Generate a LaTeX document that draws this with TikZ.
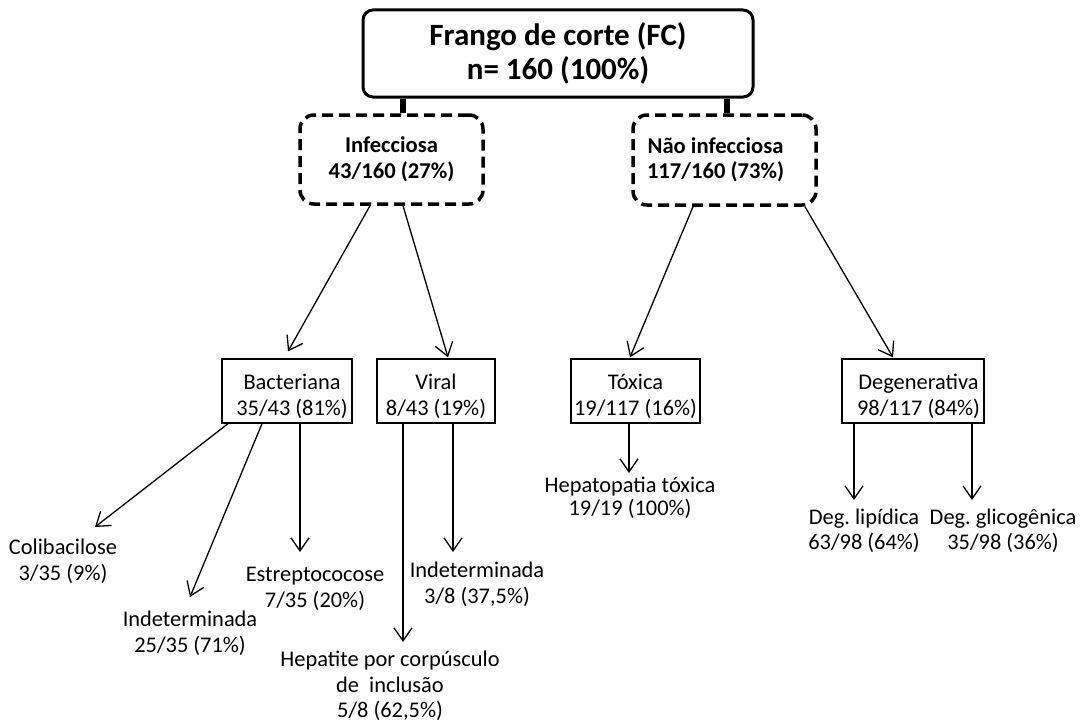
\documentclass[tikz,border=0pt]{standalone}
\usepackage{fontspec}
\setmainfont{Carlito}
\usetikzlibrary{arrows.meta}
\frenchspacing
\tikzset{
  txt/.style={align=center, inner sep=0pt, font=\fontsize{22.4}{26}\selectfont},
  rootbox/.style={draw, line width=3pt, rounded corners=10pt, inner sep=0pt,
    align=center, font=\fontsize{31}{33.5}\selectfont\bfseries},
  groupbox/.style={draw, line width=3.5pt, dash pattern=on 11pt off 6pt,
    rounded corners=14pt, inner sep=0pt, minimum width=183pt, minimum height=89pt,
    align=center, font=\fontsize{22.6}{25.5}\selectfont\bfseries},
  catbox/.style={draw, line width=1.3pt, inner sep=0pt, minimum height=64pt,
    align=center, font=\fontsize{22.4}{25.5}\selectfont},
  stub/.style={line width=6pt},
  arr/.style={line width=1.3pt, -{Straight Barb[length=13pt,width=18pt,line width=1.3pt]}}
}
\newcommand{\lift}{\rule{0pt}{26pt}}
\begin{document}
\begin{tikzpicture}[x=1pt,y=-1pt]
\useasboundingbox (0,0) rectangle (1083,725);

% root
\node[rootbox, minimum width=390pt, minimum height=87pt] (root) at (558,53.5)
  {Frango de corte (FC)\\n= 160 (100\%)};

% first level
\node[groupbox] (inf) at (391.5,159.5) {Infecciosa\\43/160 (27\%)};
\node[groupbox, minimum height=90pt] (ninf) at (724.5,160)
  {Não infecciosa\rule{18pt}{0pt}\\117/160 (73\%)\rule{18pt}{0pt}};

\draw[stub] ([xshift=-155pt]root.south) -- ([xshift=-155pt]root.south |- inf.north);
\draw[stub] ([xshift=169pt]root.south) -- ([xshift=169pt]root.south |- ninf.north);

% second level
\node[catbox, minimum width=130pt] (bact) at (287,391) {\lift\rule{10pt}{0pt}Bacteriana\\\rule{10pt}{0pt}35/43 (81\%)};
\node[catbox, minimum width=118pt] (vir) at (436,391) {\lift Viral\\8/43 (19\%)};
\node[catbox, minimum width=129pt] (tox) at (635.5,391) {\lift Tóxica\\19/117 (16\%)};
\node[catbox, minimum width=142pt] (deg) at (913,391) {\lift\rule{11pt}{0pt}Degenerativa\\\rule{11pt}{0pt}98/117 (84\%)};

\draw[arr] ([xshift=-21.5pt]inf.south) -- ([xshift=1pt,yshift=7pt]bact.north);
\draw[arr] ([xshift=11.5pt]inf.south) -- ([xshift=12pt,yshift=1pt]vir.north);
\draw[arr] ([xshift=-31.5pt]ninf.south) -- ([xshift=-5.5pt,yshift=1pt]tox.north);
\draw[arr] ([xshift=80.5pt]ninf.south) -- ([xshift=-20pt,yshift=1pt]deg.north);

% third level
\node[txt] (coli) at (63,561.5) {Colibacilose\\3/35 (9\%)};
\node[txt] (ind1) at (190,633.5) {Indeterminada\\25/35 (71\%)};
\node[txt] (estr) at (315,588.5) {Estreptococose\\7/35 (20\%)};
\node[txt, font=\fontsize{22.4}{25.5}\selectfont] (hep) at (390,686)
  {Hepatite por corpúsculo\\de \ inclusão\\5/8 (62,5\%)};
\node[txt] (ind2) at (477,584) {Indeterminada\\3/8 (37,5\%)};
\node[txt, font=\fontsize{22.4}{23}\selectfont] (hept) at (630,498) {Hepatopatia tóxica\\19/19 (100\%)};
\node[txt, font=\fontsize{22.4}{25}\selectfont] (lip) at (864,530.5) {Deg. lipídica\\63/98 (64\%)};
\node[txt, font=\fontsize{22.4}{25}\selectfont] (gli) at (1003,530.5) {Deg. glicogênica\\35/98 (36\%)};

\draw[arr] ([xshift=-59pt]bact.south) -- ([xshift=32pt,yshift=34.5pt]coli.center);
\draw[arr] ([xshift=-25pt]bact.south) -- ([yshift=36.5pt]ind1.center);
\draw[arr] ([xshift=13pt]bact.south) -- ([xshift=-15pt,yshift=36.5pt]estr.center);
\draw[arr] ([xshift=-33pt]vir.south) -- ([xshift=13pt,yshift=44pt]hep.center);
\draw[arr] ([xshift=17pt]vir.south) -- ([xshift=-24pt,yshift=32pt]ind2.center);
\draw[arr] ([xshift=-6.5pt]tox.south) -- ([xshift=-1pt,yshift=25pt]hept.center);
\draw[arr] ([xshift=-59pt]deg.south) -- ([xshift=-10pt,yshift=30.5pt]lip.center);
\draw[arr] ([xshift=59pt]deg.south) -- ([xshift=-31pt,yshift=30.5pt]gli.center);
\end{tikzpicture}
\end{document}
